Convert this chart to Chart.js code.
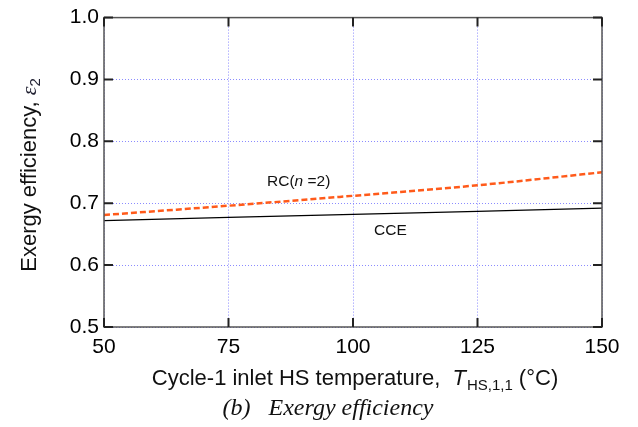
<!DOCTYPE html>
<html><head><meta charset="utf-8">
<script src="https://cdn.jsdelivr.net/npm/chart.js@4"></script>
<style>html,body{margin:0;padding:0;background:#fff}#wrap{width:638px;height:427px}</style>
</head><body><div id="wrap"><canvas id="c" width="638" height="427"></canvas></div>
<script>
const temps = [50, 75, 100, 125, 150];
const cce = [0.672, 0.677, 0.682, 0.687, 0.692];
const rc = [0.681, 0.696, 0.712, 0.729, 0.750];
const xTicks = [50, 75, 100, 125, 150];
const yTicks = [0.5, 0.6, 0.7, 0.8, 0.9, 1.0];

const PL = 104, PR = 602, PT = 15, PB = 327;
const SANS = '"Liberation Sans", Arial, sans-serif';

const decor = {
  id: 'decor',
  afterDraw(chart) {
    const ctx = chart.ctx, a = chart.chartArea;
    const xs = chart.scales.x, ys = chart.scales.y;
    ctx.save();
    // frame
    ctx.strokeStyle = '#555'; ctx.lineWidth = 1.5;
    ctx.strokeRect(a.left, a.top, a.right - a.left, a.bottom - a.top);
    // inward ticks
    ctx.strokeStyle = '#222'; ctx.lineWidth = 2;
    ctx.beginPath();
    xTicks.forEach(v => {
      const px = xs.getPixelForValue(v);
      ctx.moveTo(px, a.bottom); ctx.lineTo(px, a.bottom - 9);
      ctx.moveTo(px, a.top); ctx.lineTo(px, a.top + 9);
    });
    yTicks.forEach(v => {
      const py = ys.getPixelForValue(v);
      ctx.moveTo(a.left, py); ctx.lineTo(a.left + 9, py);
      ctx.moveTo(a.right, py); ctx.lineTo(a.right - 9, py);
    });
    ctx.stroke();
    // series labels
    ctx.fillStyle = '#111';
    ctx.textBaseline = 'middle';
    ctx.textAlign = 'left';
    ctx.font = '15.5px ' + SANS;
    let x = 267, y = 182;
    ctx.fillText('RC(', x, y); x += ctx.measureText('RC(').width;
    ctx.font = 'italic 15.5px ' + SANS;
    ctx.fillText('n', x, y); x += ctx.measureText('n ').width;
    ctx.font = '15.5px ' + SANS;
    ctx.fillText('=2)', x, y);
    ctx.fillText('CCE', 374, 231);
    // x title
    const FX = 22;
    ctx.font = FX + 'px ' + SANS;
    const p1 = 'Cycle-1 inlet HS temperature,  ';
    const w1 = ctx.measureText(p1).width;
    ctx.font = 'italic ' + FX + 'px ' + SANS;
    const wT = ctx.measureText('T').width + 1;
    ctx.font = '15px ' + SANS;
    const wS = ctx.measureText('HS,1,1').width + 6;
    ctx.font = FX + 'px ' + SANS;
    const p3 = '(\u00B0C)';
    const w3 = ctx.measureText(p3).width;
    let tx = 355 - (w1 + wT + wS + w3) / 2, ty = 379;
    ctx.fillText(p1, tx, ty); tx += w1;
    ctx.font = 'italic ' + FX + 'px ' + SANS;
    ctx.fillText('T', tx, ty); tx += wT;
    ctx.font = '15px ' + SANS;
    ctx.fillText('HS,1,1', tx, ty + 7); tx += wS;
    ctx.font = FX + 'px ' + SANS;
    ctx.fillText(p3, tx, ty);
    // caption
    ctx.font = 'italic 24px "Liberation Serif", "Times New Roman", serif';
    ctx.textAlign = 'center';
    ctx.fillText('(b)\u2002 Exergy efficiency', 328, 409);
    // y title
    ctx.translate(30, 175);
    ctx.rotate(-Math.PI / 2);
    ctx.textAlign = 'left';
    ctx.font = FX + 'px ' + SANS;
    const q1 = 'Exergy efficiency, ';
    const wq1 = ctx.measureText(q1).width;
    ctx.font = 'italic 22px "Liberation Serif", serif';
    const we = ctx.measureText('\u03B5').width;
    ctx.font = '15px ' + SANS;
    const w2 = ctx.measureText('2').width;
    let yx = -(wq1 + we + w2) / 2;
    ctx.font = FX + 'px ' + SANS;
    ctx.fillText(q1, yx, 0); yx += wq1;
    ctx.font = 'italic 22px "Liberation Serif", serif';
    ctx.fillStyle = '#223';
    ctx.fillText('\u03B5', yx, 0); yx += we;
    ctx.font = '15px ' + SANS;
    ctx.fillText('2', yx, 6);
    ctx.restore();
  }
};

const GRID = 'rgba(110,110,255,0.8)';
new Chart(document.getElementById('c'), {
  type: 'line',
  data: {
    datasets: [
      { label: 'CCE', data: temps.map((t, i) => ({x: t, y: cce[i]})), borderColor: '#000', borderWidth: 1.3, pointRadius: 0, tension: 0 },
      { label: 'RC(n=2)', data: temps.map((t, i) => ({x: t, y: rc[i]})), borderColor: '#ff5a1a', borderWidth: 2.5, borderDash: [6, 3], pointRadius: 0, cubicInterpolationMode: 'monotone' }
    ]
  },
  options: {
    responsive: false, animation: false,
    layout: { padding: { left: 0, right: 638 - PR, top: PT, bottom: 0 } },
    plugins: { legend: { display: false }, tooltip: { enabled: false } },
    scales: {
      x: {
        type: 'linear', min: 50, max: 150,
        afterBuildTicks(s) { s.ticks = xTicks.map(v => ({value: v})); },
        afterFit(s) { s.height = 427 - PB; },
        grid: { color: GRID, lineWidth: 1, drawTicks: false },
        border: { display: false, dash: [1, 2] },
        ticks: { color: '#000', font: { size: 21, family: SANS }, padding: 8, maxRotation: 0 }
      },
      y: {
        min: 0.5, max: 1.0,
        afterBuildTicks(s) { s.ticks = yTicks.map(v => ({value: v})); },
        afterFit(s) { s.width = PL; },
        grid: { color: GRID, lineWidth: 1, drawTicks: false },
        border: { display: false, dash: [1, 2] },
        ticks: { color: '#000', font: { size: 21, family: SANS }, padding: 5, callback: v => v.toFixed(1) }
      }
    }
  },
  plugins: [decor]
});
</script></body></html>
